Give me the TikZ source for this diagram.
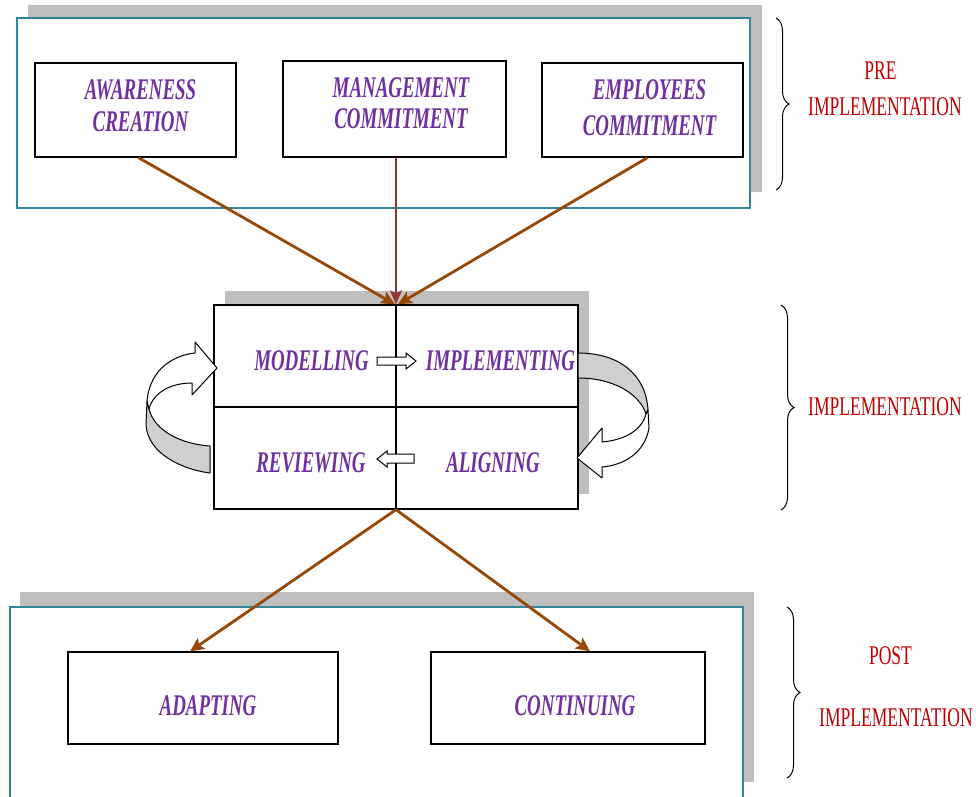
\documentclass[tikz,border=0pt]{standalone}
\usepackage{fontspec}
\setmainfont{Liberation Serif}
\newfontfamily\boxfont[FakeStretch=0.63]{Liberation Serif}
\newfontfamily\phasefont[FakeStretch=0.65]{Liberation Serif}
\usetikzlibrary{arrows.meta,decorations.pathreplacing,calc}
\definecolor{txtpurple}{HTML}{7030A0}
\definecolor{phasered}{HTML}{C00000}
\definecolor{framecol}{HTML}{31859C}
\definecolor{shadowgray}{HTML}{BFBFBF}
\definecolor{bandgray}{HTML}{CFCFCF}
\definecolor{linkbrown}{HTML}{974806}
\definecolor{linkmaroon}{HTML}{953735}
\tikzset{
  shadowrect/.style={fill=shadowgray, draw=none},
  framerect/.style={draw=framecol, line width=1.8pt, fill=white},
  stagebox/.style={draw=black, line width=1.3pt, fill=white, inner sep=0pt},
  stagetext/.style={text=txtpurple, inner sep=0pt, align=center,
    font=\boxfont\bfseries\itshape\fontsize{30}{32}\selectfont},
  phasetext/.style={text=phasered, inner sep=0pt, font=\phasefont\fontsize{27}{30}\selectfont},
  link/.style={draw=linkbrown, line width=2.8pt, -{Stealth[length=14pt,width=13pt,inset=3pt]}},
  linkmid/.style={draw=linkmaroon, line width=2pt, -{Stealth[length=14pt,width=12pt,inset=3pt]}},
  bandwhite/.style={draw=black, line width=1pt, fill=white, line join=round},
  bandback/.style={draw=black, line width=1pt, fill=bandgray, line join=round},
  blockarrow/.style={draw=black, line width=1pt, fill=white},
  phasebrace/.style={draw=black, line width=1pt, decorate, decoration={brace, amplitude=13pt}},
}
\begin{document}
\begin{tikzpicture}[x=1pt,y=-1pt]
\useasboundingbox (0,0) rectangle (976,796);

% ---------- pre-implementation ----------
\fill[shadowrect] (28,5) rectangle (762,192);
\draw[framerect] (17,18) rectangle (750,208);
\node[stagebox, minimum width=201pt, minimum height=94pt] (aw) at (135.5,110) {};
\node[stagebox, minimum width=223pt, minimum height=96pt] (mg) at (394.5,109) {};
\node[stagebox, minimum width=201pt, minimum height=94pt] (em) at (642.5,110) {};
\node[stagetext] (awt) at (140.5,106) {AWARENESS\\CREATION};
\node[stagetext] (mgt) at (401,103.5) {MANAGEMENT\\[-1pt]COMMITMENT};
\node[stagetext] (emt) at (649.5,108) {EMPLOYEES\\[4pt]COMMITMENT};

% ---------- implementation ----------
\fill[shadowrect] (225,291) rectangle (589,494);
\node[draw=black, line width=1.3pt, fill=white, minimum width=364pt, minimum height=204pt, inner sep=0pt] (mid) at (396,407) {};
\draw[line width=1.2pt] (mid.north) -- (mid.south);
\draw[line width=1.5pt] (mid.west) -- (mid.east);
\node[stagetext] (mod) at (311.5,361) {MODELLING};
\node[stagetext] (imp) at (500.5,361) {IMPLEMENTING};
\node[stagetext] (rev) at (311,463) {REVIEWING};
\node[stagetext] (ali) at (493,463) {ALIGNING};

% small block arrows
\draw[blockarrow] (377,357) -- (406,357) -- (406,353) -- (416,361) -- (406,369) -- (406,365) -- (377,365) -- cycle;
\draw[blockarrow] (414,454) -- (387,454) -- (387,451) -- (377,459) -- (387,467) -- (387,463) -- (414,463) -- cycle;

% left curved arrow
\draw[bandback] (147,401) -- (146,425) .. controls (148,455) and (185,470) .. (210,473) -- (210,446) .. controls (180,444) and (154,430) .. (149,409) -- cycle;
\draw[bandwhite] (147,401) .. controls (150,368) and (175,355) .. (195,353) -- (195,342) -- (217,368) -- (192,395) -- (192,383) .. controls (170,383) and (153,393) .. (149,409) -- cycle;

% right curved arrow
\draw[bandback] (578,353) .. controls (620,353) and (646,375) .. (648,410) -- (646,414) .. controls (640,395) and (615,378) .. (578,378) -- cycle;
\draw[bandwhite] (648,410) -- (649,428) .. controls (645,452) and (625,465) .. (602,467) -- (602,478) -- (577,458) -- (602,428) -- (602,442) .. controls (625,440) and (642,430) .. (646,414) -- cycle;

% ---------- post-implementation ----------
\fill[shadowrect] (20,592) rectangle (754,782);
\draw[framerect] (10,607) rectangle (743,810);
\node[stagebox, minimum width=270pt, minimum height=92pt] (ad) at (203,698) {};
\node[stagebox, minimum width=274pt, minimum height=92pt] (co) at (568,698) {};
\node[stagetext] (adt) at (208,706) {ADAPTING};
\node[stagetext] (cot) at (575,706) {CONTINUING};

% ---------- connectors ----------
\draw[link] ($(aw.south)+(3,0)$) -- ($(mid.north)+(-1,0)$);
\draw[linkmid] (mg.south -| mid.north) -- (mid.north);
\draw[link] ($(em.south)+(5,0)$) -- ($(mid.north)+(2,0)$);
\draw[link] (mid.south) -- ($(ad.north)+(-13,0)$);
\draw[link] (mid.south) -- ($(co.north)+(22,0)$);

% ---------- phase braces and labels ----------
\draw[phasebrace] (776,18) -- (776,190);
\draw[phasebrace] (781,305) -- (781,510);
\draw[phasebrace] (787,607) -- (787,778);
\node[phasetext] (pre1) at (880.5,71) {PRE};
\node[phasetext] (pre2) at (885,107) {IMPLEMENTATION};
\node[phasetext] (impl) at (885,407) {IMPLEMENTATION};
\node[phasetext] (post1) at (890.5,656) {POST};
\node[phasetext] (post2) at (896,718) {IMPLEMENTATION};
\end{tikzpicture}
\end{document}
